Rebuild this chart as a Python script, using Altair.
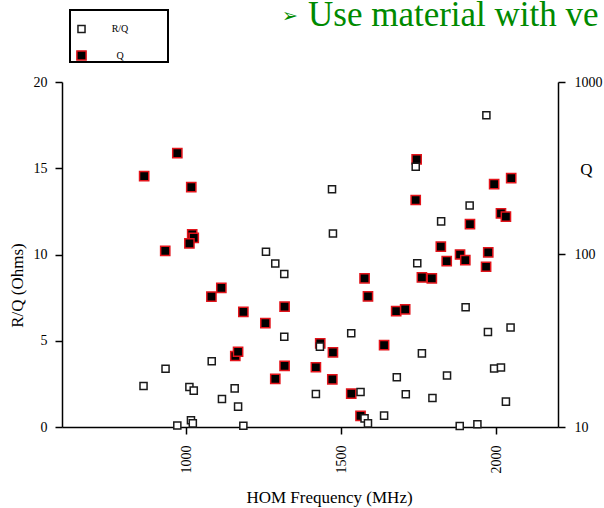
import altair as alt
import pandas as pd

# HOM frequencies (MHz) and shunt impedance R/Q (Ohms), left axis
rq_freq = [863, 934, 972, 1011, 1025, 1016, 1022, 1083, 1116, 1157, 1168, 1185,
           1258, 1288, 1317, 1317, 1419, 1432, 1471, 1474, 1533, 1563, 1576, 1587,
           1639, 1680, 1709, 1741, 1746, 1761, 1795, 1823, 1842, 1883, 1902, 1915,
           1940, 1969, 1974, 1994, 2016, 2032, 2047]
rq_vals = [2.38, 3.38, 0.09, 2.32, 2.11, 0.39, 0.21, 3.81, 1.62, 2.24, 1.18, 0.07,
           10.16, 9.48, 8.87, 5.23, 1.91, 4.66, 13.78, 11.22, 5.43, 2.03, 0.50, 0.21,
           0.66, 2.88, 1.90, 15.09, 9.49, 4.27, 1.68, 11.92, 2.99, 0.06, 6.94, 12.84,
           0.16, 18.07, 5.51, 3.39, 3.45, 1.47, 5.77]

# HOM frequencies (MHz) and loaded Q, right (log) axis
q_freq = [865, 972, 1017, 933, 1020, 1025, 1011, 1082, 1114, 1185, 1256, 1159,
          1168, 1318, 1318, 1288, 1419, 1433, 1474, 1472, 1533, 1563, 1639, 1587,
          1576, 1678, 1707, 1744, 1741, 1761, 1793, 1822, 1841, 1884, 1901, 1916,
          1968, 1975, 1994, 2016, 2032, 2049]
q_vals = [285, 387, 246, 105, 131, 125, 116, 57, 64, 46.5, 40, 25.8,
          27.3, 49.8, 22.6, 19.0, 22.2, 30.5, 27.1, 18.9, 15.6, 11.6, 29.8, 57.1,
          72.8, 46.9, 48.1, 356, 207, 73.6, 72.8, 111, 91.6, 100, 92.9, 150,
          84.9, 103, 256, 173, 166, 277]

series_order = ["R/Q", "Q"]
x_ticks = [1000, 1500, 2000]
rq_ticks = [0, 5, 10, 15, 20]
q_ticks = [10, 100, 1000]

rq_df = pd.DataFrame({"freq": rq_freq, "value": rq_vals, "series": "R/Q"})
q_df = pd.DataFrame({"freq": q_freq, "value": q_vals, "series": "Q"})
headline_df = pd.DataFrame({"txt": ["Use material with ve"]})
bullet_df = pd.DataFrame({"txt": ["\u27a2"]})
frame_df = pd.DataFrame({"box": [1]})

SERIF = "Liberation Serif"
GREEN = "#008a00"

legend = alt.Legend(
    title=None, orient="none", legendX=6, legendY=-66, direction="vertical",
    padding=8, rowPadding=11,
    labelFont=SERIF, labelFontSize=10, labelColor="black",
    labelAlign="center", labelOffset=33,
    symbolType="square", symbolStrokeWidth=1.5,
)

fill_scale = alt.Scale(domain=series_order, range=["white", "black"])
stroke_scale = alt.Scale(domain=series_order, range=["#1a1a1a", "#e3141b"])
size_scale = alt.Scale(domain=series_order, range=[50, 85])

x_enc = alt.X(
    "freq:Q",
    scale=alt.Scale(domain=[600, 2200], nice=False, zero=False),
    axis=alt.Axis(
        values=x_ticks, format="d", labelAngle=270, labelFontSize=14,
        labelPadding=11, tickSize=7, tickWidth=1.5, domainWidth=1.5,
        title="HOM Frequency (MHz)", titleFontSize=17, titleX=267, titleY=70,
        titleAlign="center", titleBaseline="middle",
    ),
)

common = dict(
    fill=alt.Fill("series:N", scale=fill_scale, legend=legend),
    stroke=alt.Stroke("series:N", scale=stroke_scale, legend=legend),
    size=alt.Size("series:N", scale=size_scale, legend=legend),
)

q_layer = alt.Chart(q_df).mark_square(strokeWidth=1.5, opacity=1).encode(
    x=x_enc,
    y=alt.Y(
        "value:Q",
        scale=alt.Scale(type="log", domain=[10, 1000], nice=False),
        axis=alt.Axis(
            orient="right", values=q_ticks, format="d", labelFontSize=14,
            labelPadding=9, tickSize=7, tickWidth=1.5, domainWidth=1.5,
            title="Q", titleAngle=0, titleFontSize=17, titleX=28, titleY=87,
            titleAlign="center", titleBaseline="middle",
        ),
    ),
    **common,
)

rq_layer = alt.Chart(rq_df).mark_square(strokeWidth=1.5, opacity=1).encode(
    x=x_enc,
    y=alt.Y(
        "value:Q",
        scale=alt.Scale(domain=[0, 20], nice=False, zero=True),
        axis=alt.Axis(
            orient="left", values=rq_ticks, labelFontSize=14, labelPadding=8,
            tickSize=7, tickWidth=1.5, domainWidth=1.5,
            title="R/Q (Ohms)", titleAngle=270, titleFontSize=17,
            titleX=-45, titleY=203, titleAlign="center", titleBaseline="middle",
        ),
    ),
    **common,
)

# frame around the legend entries
legend_frame = alt.Chart(frame_df).mark_rect(
    x=8, x2=106, y=-72, y2=-20, fillOpacity=0, stroke="black", strokeWidth=2,
).encode(detail="box:N")

headline = alt.Chart(headline_df).mark_text(
    x=246, y=-56, align="left", baseline="alphabetic",
    font=SERIF, fontSize=35, color=GREEN,
).encode(text="txt:N")

bullet = alt.Chart(bullet_df).mark_text(
    x=220, y=-60, align="left", baseline="alphabetic",
    font="DejaVu Sans", fontSize=19, color=GREEN,
).encode(text="txt:N")

chart = (
    alt.layer(q_layer, rq_layer, legend_frame, headline, bullet)
    .resolve_scale(y="independent")
    .properties(
        width=496, height=345,
        autosize=alt.AutoSizeParams(type="none"),
        padding={"left": 62, "top": 82, "right": 46, "bottom": 81},
        background="white",
    )
    .configure_view(stroke=None)
    .configure_axis(
        grid=False, labelFont=SERIF, titleFont=SERIF, labelColor="black",
        titleColor="black", titleFontWeight="normal", domainColor="black",
        tickColor="black",
    )
)

chart.save("out.html", embed_options={"renderer": "svg", "actions": False})
